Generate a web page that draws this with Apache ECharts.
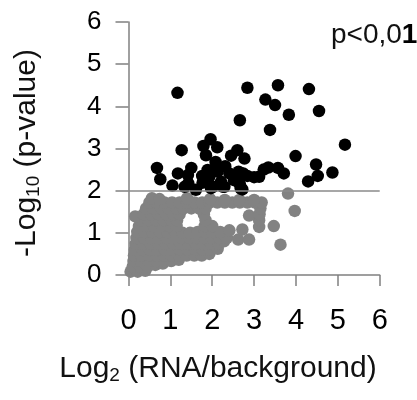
<!DOCTYPE html>
<html>
<head>
<meta charset="utf-8">
<script src="https://cdn.jsdelivr.net/npm/echarts@6/dist/echarts.min.js"></script>
<style>html,body{margin:0;padding:0;background:#fff;}#c{width:417px;height:400px;}</style>
</head>
<body>
<div id="c"></div>
<script>
// Tick values
var xTicks = [0, 1, 2, 3, 4, 5, 6];
var yTicks = [0, 1, 2, 3, 4, 5, 6];
var threshold = 2; // -log10(0.01)

// Significant genes (black): [log2 ratio, -log10 p]
var sigPoints = [
  [1.17,4.32],[2.84,4.44],[3.57,4.50],[4.31,4.41],[3.27,4.16],[3.50,4.03],[4.55,3.89],
  [3.83,3.80],[2.66,3.67],[3.38,3.44],[5.17,3.09],[1.27,2.96],[1.96,3.22],[1.79,3.06],
  [2.12,3.03],[1.85,2.84],[2.60,2.96],[2.45,2.83],[2.77,2.76],[3.99,2.82],[2.08,2.68],
  [0.68,2.54],[1.50,2.54],[1.18,2.41],[0.76,2.27],[1.05,2.12],[1.42,2.37],[1.43,2.17],
  [1.61,2.02],[1.76,2.35],[1.77,2.19],[1.93,2.33],[2.01,2.09],[2.13,2.45],[2.31,2.58],
  [2.29,2.09],[2.41,2.41],[2.52,2.25],[2.66,2.15],[2.72,2.03],[2.74,2.41],[2.84,2.35],
  [3.00,2.32],[3.12,2.33],[3.23,2.50],[3.34,2.55],[3.57,2.54],[3.71,2.41],[4.48,2.62],
  [4.52,2.35],[4.29,2.22],[4.87,2.43],[2.09,2.57],[1.89,2.49],[1.34,2.09],[2.21,2.21],
  [2.60,2.33],[2.63,2.45],[1.97,2.06],[2.26,2.09],[2.68,2.05]
];

// Non-significant genes (gray): [log2 ratio, -log10 p]
var nonsigPoints = [
  [0.05,0.08],[0.22,0.08],[0.40,0.10],
  [0.10,0.20],[0.28,0.20],[0.46,0.20],[0.64,0.24],[0.82,0.27],
  [0.12,0.33],[0.30,0.33],[0.48,0.33],[0.66,0.33],[0.84,0.33],[1.02,0.33],[1.20,0.36],
  [0.13,0.46],[0.31,0.46],[0.49,0.46],[0.67,0.46],[0.85,0.46],[1.03,0.46],[1.21,0.46],[1.39,0.46],[1.57,0.46],[1.75,0.46],[1.93,0.50],
  [0.15,0.60],[0.33,0.60],[0.51,0.60],[0.69,0.60],[0.87,0.60],[1.05,0.60],[1.23,0.60],[1.41,0.60],[1.59,0.60],[1.77,0.60],[1.95,0.60],[2.13,0.62],
  [0.17,0.74],[0.35,0.74],[0.53,0.74],[0.71,0.74],[0.89,0.74],[1.07,0.74],[1.25,0.74],[1.43,0.74],[1.61,0.74],[1.79,0.74],[1.97,0.74],[2.15,0.74],[2.28,0.80],
  [0.19,0.88],[0.37,0.88],[0.55,0.88],[0.73,0.88],[0.91,0.88],[1.09,0.88],[1.27,0.88],[1.45,0.88],[1.63,0.88],[1.81,0.88],[1.99,0.88],[2.17,0.88],[2.35,0.88],[2.62,0.84],[2.88,0.84],
  [0.21,1.02],[0.39,1.02],[0.57,1.02],[0.75,1.02],[0.93,1.02],[1.11,1.02],[1.29,1.00],[1.47,1.00],[1.65,1.02],[1.83,1.02],[2.01,1.02],[2.19,1.02],[2.41,1.06],[2.72,1.08],
  [0.25,1.16],[0.43,1.16],[0.61,1.16],[0.79,1.16],[0.97,1.16],[1.15,1.16],[1.82,1.16],[2.00,1.16],[3.12,1.14],
  [0.30,1.30],[0.48,1.30],[0.66,1.30],[0.84,1.30],[1.02,1.30],[1.16,1.30],[1.84,1.30],[3.12,1.30],
  [0.16,1.39],[0.36,1.44],[0.54,1.44],[0.72,1.44],[0.90,1.44],[1.08,1.44],[1.22,1.44],[1.80,1.44],[2.88,1.41],[3.13,1.44],
  [0.42,1.58],[0.60,1.58],[0.78,1.58],[0.96,1.58],[1.14,1.58],[1.32,1.58],[1.50,1.58],[1.68,1.58],[1.84,1.58],[3.15,1.58],
  [0.50,1.72],[0.68,1.72],[0.86,1.72],[1.04,1.72],[1.22,1.72],[1.40,1.72],[1.58,1.72],[1.76,1.72],[1.94,1.72],[2.12,1.72],[2.30,1.72],[2.48,1.72],[2.66,1.72],[2.84,1.72],[3.02,1.72],[3.18,1.72],
  [0.56,1.82],[0.74,1.80],[1.40,1.82],[1.95,1.80],[2.30,1.78],[2.65,1.78],[3.00,1.78],
  [3.47,1.16],[3.63,0.72],[3.97,1.52],[3.81,1.93]
];

var FONT = 'Liberation Sans, Arial, sans-serif';
var chart = echarts.init(document.getElementById('c'), null, {renderer: 'canvas'});
var axisColor = '#808080';
chart.setOption({
  animation: false,
  backgroundColor: '#fff',
  grid: {left: 128.5, right: 37.3, top: 22, bottom: 125},
  xAxis: {
    type: 'value', min: 0, max: 6, interval: 1,
    axisLine: {show: true, lineStyle: {color: axisColor, width: 1.5}},
    axisTick: {show: true, length: 11, lineStyle: {color: axisColor, width: 1.5}},
    axisLabel: {color: '#000', fontFamily: FONT, fontSize: 29, margin: 31,
      formatter: function (v) { return xTicks.indexOf(v) >= 0 ? String(v) : ''; }},
    splitLine: {show: false}
  },
  yAxis: {
    type: 'value', min: 0, max: 6, interval: 1,
    axisLine: {show: true, lineStyle: {color: axisColor, width: 1.5}},
    axisTick: {show: true, length: 13, lineStyle: {color: axisColor, width: 1.5}},
    axisLabel: {color: '#000', fontFamily: FONT, fontSize: 26, margin: 27,
      formatter: function (v) { return yTicks.indexOf(v) >= 0 ? String(v) : ''; }},
    splitLine: {show: false}
  },
  series: [
    {
      type: 'scatter', data: nonsigPoints, symbol: 'circle', symbolSize: 12.5,
      itemStyle: {color: '#828282', opacity: 1}, z: 2,
      markLine: {
        silent: true, symbol: ['none', 'none'], label: {show: false},
        lineStyle: {color: '#8a8a8a', width: 1.5, type: 'solid'},
        data: [{yAxis: threshold}]
      }
    },
    {
      type: 'scatter', data: sigPoints, symbol: 'circle', symbolSize: 12.5,
      itemStyle: {color: '#000', opacity: 1}, z: 3
    }
  ],
  graphic: [
    {
      type: 'text', left: 331, top: 21,
      style: {
        text: '{n|p<0,0}{b|1}', fill: '#111',
        rich: {
          n: {fontFamily: FONT, fontSize: 28, fill: '#111'},
          b: {fontFamily: FONT, fontSize: 28, fontWeight: 'bold', fill: '#000'}
        }
      }
    },
    {
      type: 'text', x: 218, y: 369,
      style: {
        text: '{n|Log}{s|2}{n| (RNA/background)}', fill: '#111',
        align: 'center', verticalAlign: 'middle',
        rich: {
          n: {fontFamily: FONT, fontSize: 30, lineHeight: 32, fill: '#111'},
          s: {fontFamily: FONT, fontSize: 19, lineHeight: 14, verticalAlign: 'bottom', fill: '#111'}
        }
      }
    },
    {
      type: 'text', x: 27, y: 153, rotation: Math.PI / 2,
      style: {
        text: '{n|-Log}{s|10}{n| (p-value)}', fill: '#111',
        align: 'center', verticalAlign: 'middle',
        rich: {
          n: {fontFamily: FONT, fontSize: 30, lineHeight: 32, fill: '#111'},
          s: {fontFamily: FONT, fontSize: 19, lineHeight: 14, verticalAlign: 'bottom', fill: '#111'}
        }
      }
    }
  ]
});
</script>
</body>
</html>
